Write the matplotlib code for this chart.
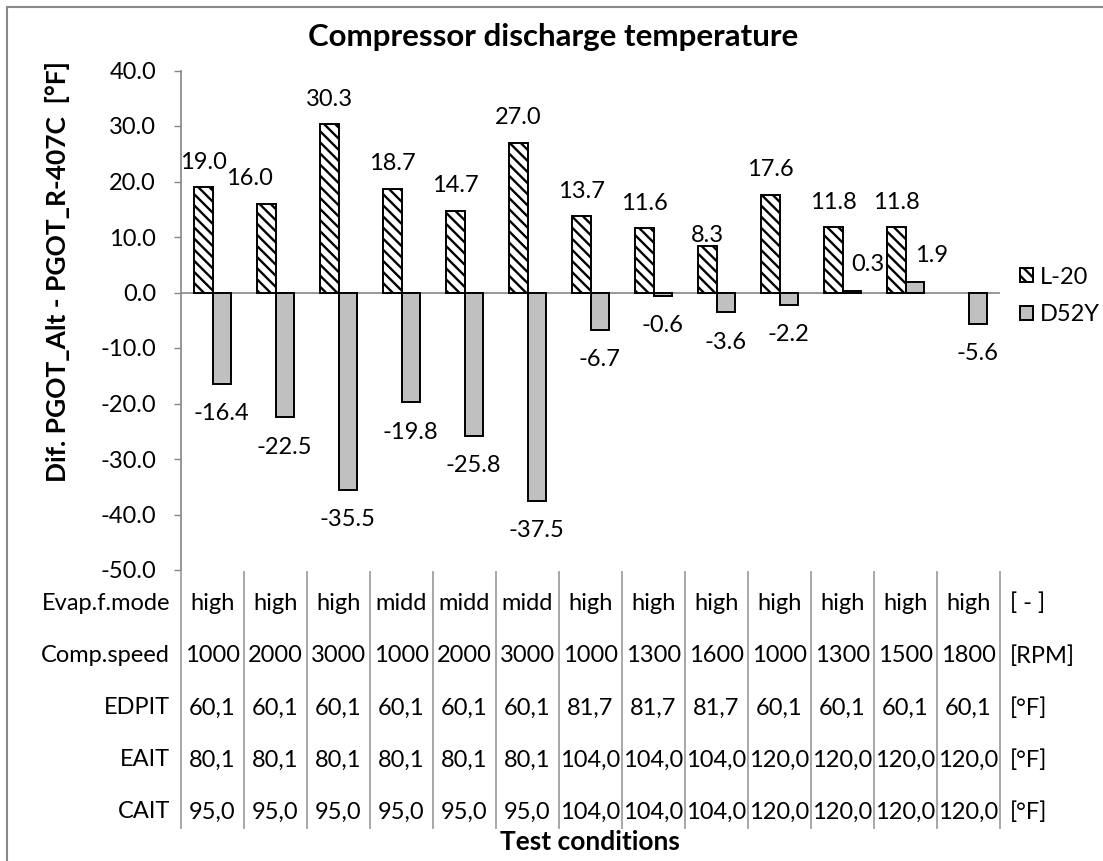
import matplotlib
matplotlib.use("Agg")
import matplotlib.pyplot as plt
import matplotlib.transforms as mtransforms
from matplotlib.lines import Line2D
from matplotlib.patches import Rectangle
import numpy as np

plt.rcParams['font.family'] = ['Lato', 'DejaVu Sans']
plt.rcParams['hatch.linewidth'] = 1.7

# chart values
l20 = [19.0, 16.0, 30.3, 18.7, 14.7, 27.0, 13.7, 11.6, 8.3, 17.6, 11.8, 11.8, np.nan]
d52y = [-16.4, -22.5, -35.5, -19.8, -25.8, -37.5, -6.7, -0.6, -3.6, -2.2, 0.3, 1.9, -5.6]

# test conditions table
row_names = ['Evap.f.mode', 'Comp.speed', 'EDPIT', 'EAIT', 'CAIT']
row_units = ['[ - ]', '[RPM]', '[°F]', '[°F]', '[°F]']
evap_mode = ['high', 'high', 'high', 'midd', 'midd', 'midd', 'high', 'high', 'high', 'high', 'high', 'high', 'high']
comp_speed = ['1000', '2000', '3000', '1000', '2000', '3000', '1000', '1300', '1600', '1000', '1300', '1500', '1800']
edpit = ['60,1', '60,1', '60,1', '60,1', '60,1', '60,1', '81,7', '81,7', '81,7', '60,1', '60,1', '60,1', '60,1']
eait = ['80,1', '80,1', '80,1', '80,1', '80,1', '80,1', '104,0', '104,0', '104,0', '120,0', '120,0', '120,0', '120,0']
cait = ['95,0', '95,0', '95,0', '95,0', '95,0', '95,0', '104,0', '104,0', '104,0', '120,0', '120,0', '120,0', '120,0']
table_rows = [evap_mode, comp_speed, edpit, eait, cait]

W, H = 1103, 861
FS = 17
fig = plt.figure(figsize=(W / 100, H / 100), dpi=100)

def fy(py):
    return 1 - py / H

# plot area in pixels: x 181..1000, y 70.5..570
ax = fig.add_axes([181 / W, fy(570), (1000 - 181) / W, (570 - 70.5) / H])
n = len(d52y)
x = np.arange(n) + 0.5
bw = 0.286

b1 = ax.bar(x - bw / 2, l20, bw, color='white', edgecolor='black', hatch='\\\\\\', linewidth=1.4, label='L-20')
b2 = ax.bar(x + bw / 2, d52y, bw, color='#c0c0c0', edgecolor='black', linewidth=1.4, label='D52Y')

ax.set_xlim(0, n)
ax.set_ylim(-50, 40)
ax.set_yticks(np.arange(-50, 41, 10))
ax.set_yticklabels(['%.1f' % v for v in np.arange(-50, 41, 10)], fontsize=FS)
ax.tick_params(axis='y', direction='out', length=5, width=1, color='#868686', pad=13)
ax.set_xticks([])
for s in ['top', 'right', 'bottom']:
    ax.spines[s].set_visible(False)
ax.spines['left'].set_color('#868686')
ax.spines['left'].set_linewidth(1.2)
ax.axhline(0, color='#868686', lw=1.2, zorder=0.5)

# label nudges (dx, dy in points) for labels that were moved in the original
nudge_l20 = {1: (-12, 0), 8: (0, -10)}
nudge_d52 = {10: (12, 0), 11: (12, 0)}

for i, v in enumerate(l20):
    if np.isnan(v):
        continue
    dx, dy = nudge_l20.get(i, (0, 0))
    ax.annotate('%.1f' % v, (x[i] - bw / 2, v), xytext=(dx, 18 + dy), textcoords='offset points',
                ha='center', va='center', fontsize=FS)
for i, v in enumerate(d52y):
    dx, dy = nudge_d52.get(i, (0, 0))
    off = 19 if v > 0 else -21.5
    ax.annotate('%.1f' % v, (x[i] + bw / 2, v), xytext=(dx, off + dy), textcoords='offset points',
                ha='center', va='center', fontsize=FS)

# title and axis labels
fig.text(553 / W, fy(37), 'Compressor discharge temperature', ha='center', va='center',
         fontsize=22.5, fontweight='bold')
fig.text(58 / W, fy(272), 'Dif. PGOT_Alt - PGOT_R-407C  [°F]', ha='center', va='center',
         rotation=90, fontsize=19, fontweight='bold')
fig.text(590 / W, fy(842), 'Test conditions', ha='center', va='center', fontsize=19, fontweight='bold')

# data table under the chart
trans = mtransforms.blended_transform_factory(ax.transData, fig.transFigure)
row_y = [603, 656, 708, 760, 812]
for k in range(n + 1):
    fig.add_artist(Line2D([k, k], [fy(572), fy(828)], transform=trans, color='#a0a0a0', lw=1.3))
for r, (name, unit, vals) in enumerate(zip(row_names, row_units, table_rows)):
    yy = fy(row_y[r])
    fig.text(170 / W, yy, name, ha='right', va='center', fontsize=FS)
    fig.text(1010 / W, yy, unit, ha='left', va='center', fontsize=FS)
    for i, s in enumerate(vals):
        ax.text(x[i], yy, s, transform=trans, ha='center', va='center', fontsize=FS, clip_on=False)

# legend
fig.legend(handles=[b1, b2], loc='center left', bbox_to_anchor=(1020 / W, fy(296)), frameon=False,
           fontsize=FS, handlelength=0.55, handleheight=0.55, handletextpad=0.3, labelspacing=0.7,
           borderpad=0, borderaxespad=0)

# outer chart border
fig.add_artist(Rectangle((7 / W, -0.01), 1.05, fy(7) + 0.01, transform=fig.transFigure,
                         fill=False, edgecolor='#888888', lw=1.5))

fig.savefig('out.png', dpi=100)
